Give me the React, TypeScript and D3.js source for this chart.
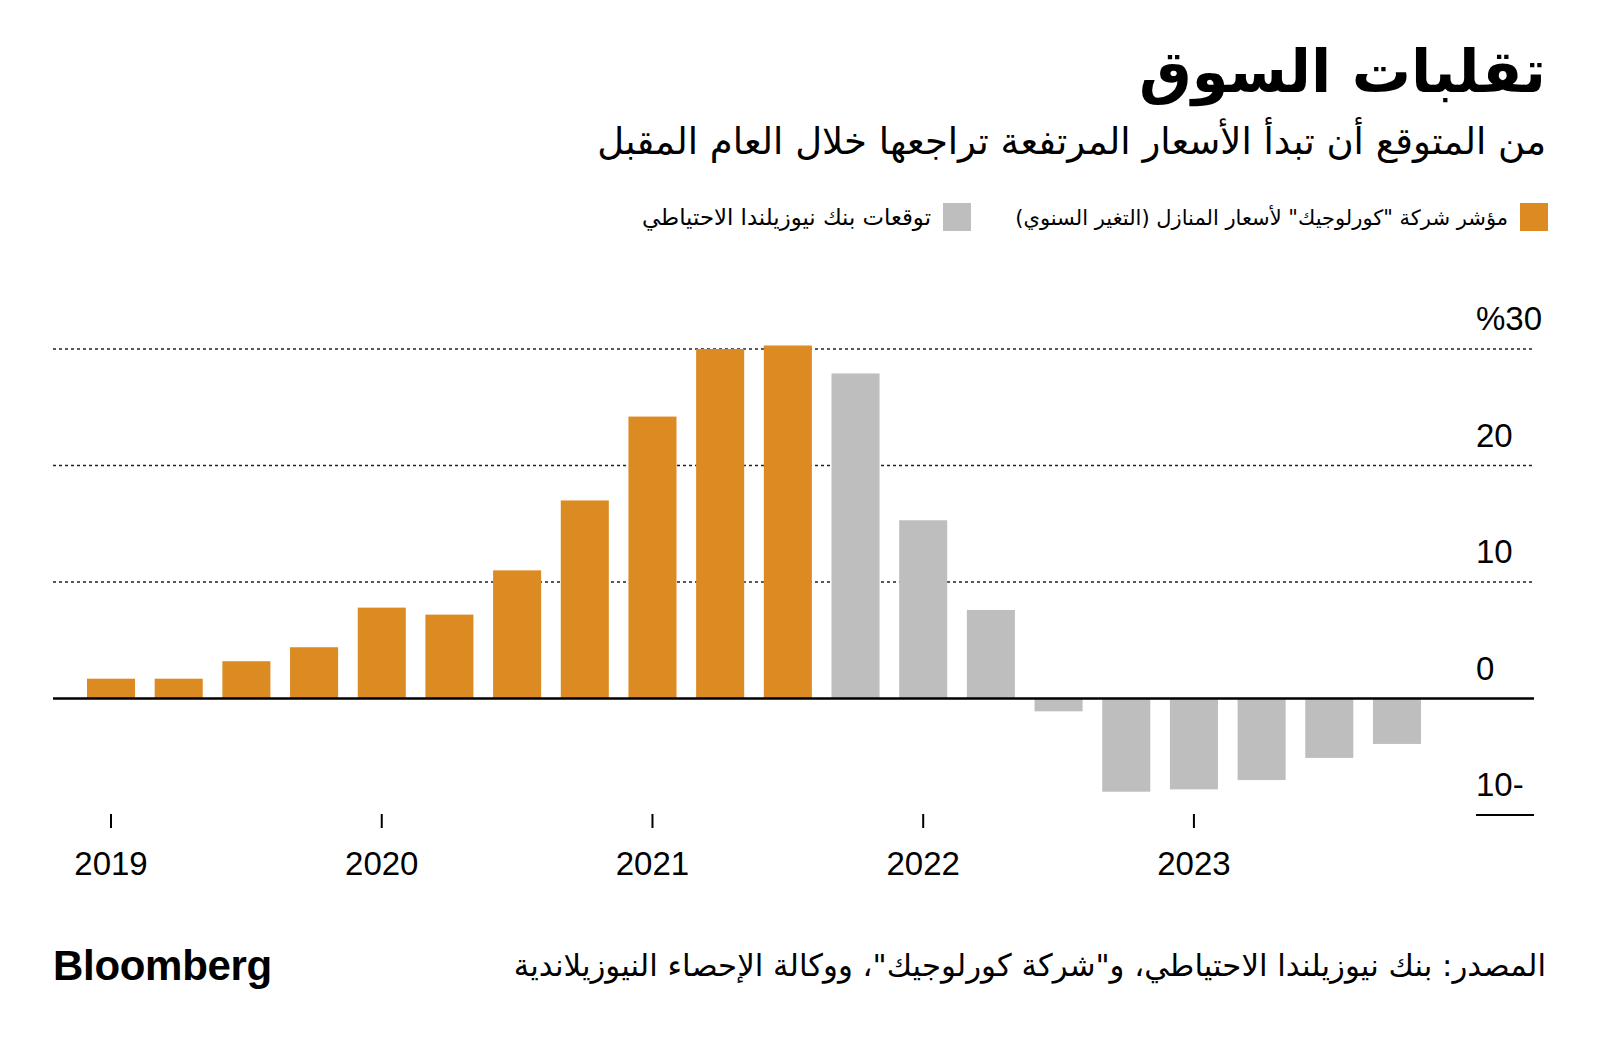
import React from "react";
import * as d3 from "d3";

const quarters = [
  "2019Q1","2019Q2","2019Q3","2019Q4",
  "2020Q1","2020Q2","2020Q3","2020Q4",
  "2021Q1","2021Q2","2021Q3","2021Q4",
  "2022Q1","2022Q2","2022Q3","2022Q4",
  "2023Q1","2023Q2","2023Q3","2023Q4",
];
// CoreLogic house price index, annual change (actual)
const corelogicValues = [1.7, 1.7, 3.2, 4.4, 7.8, 7.2, 11.0, 17.0, 24.2, 30.0, 30.3];
// RBNZ forecast
const rbnzValues = [27.9, 15.3, 7.6, -1.1, -8.0, -7.8, -7.0, -5.1, -3.9];

const yTicks = [30, 20, 10, 0, -10];
const yTickLabels = ["%30", "20", "10", "0", "10-"];
const years = ["2019", "2020", "2021", "2022", "2023"];

const title = "تقلبات السوق";
const subtitle = "من المتوقع أن تبدأ الأسعار المرتفعة تراجعها خلال العام المقبل";
const legendLabels = [
  "مؤشر شركة \"كورلوجيك\" لأسعار المنازل (التغير السنوي)",
  "توقعات بنك نيوزيلندا الاحتياطي",
];
const source = "المصدر: بنك نيوزيلندا الاحتياطي، و\"شركة كورلوجيك\"، ووكالة الإحصاء النيوزيلاندية";

const ORANGE = "#DC8A22";
const GREY = "#BEBEBE";
const AR_FONT = "'DejaVu Sans', 'Noto Sans', sans-serif";
const NUM_FONT = "'Liberation Sans', Arial, sans-serif";

type Bar = { q: string; v: number; kind: "actual" | "forecast" };

const bars: Bar[] = [
  ...corelogicValues.map((v, i) => ({ q: quarters[i], v, kind: "actual" as const })),
  ...rbnzValues.map((v, i) => ({ q: quarters[corelogicValues.length + i], v, kind: "forecast" as const })),
];

export default function App() {
  const W = 1600, H = 1048;
  const x = d3.scaleBand<string>().domain(quarters).range([87, 1421]).paddingInner(0.29).paddingOuter(0);
  const y = d3.scaleLinear().domain([-10, 30]).range([815, 349]);
  const gridX0 = 53, gridX1 = 1534;
  const labelX = 1476;

  return (
    <svg width={W} height={H} style={{ position: "absolute", left: 0, top: 0, background: "#fff" }}>
      <rect width={W} height={H} fill="#fff" />
      {/* Title */}
      <text x={1546} y={92} direction="rtl" textAnchor="start" fontFamily={AR_FONT} fontWeight="bold" fontSize={59} fill="#000">{title}</text>
      <text x={1546} y={154} direction="rtl" textAnchor="start" fontFamily={AR_FONT} fontSize={37} fill="#000">{subtitle}</text>

      {/* Legend */}
      <rect x={1520} y={203} width={28} height={28} fill={ORANGE} />
      <text x={1508} y={225} direction="rtl" textAnchor="start" fontFamily={AR_FONT} fontSize={21} fill="#000">{legendLabels[0]}</text>
      <rect x={943} y={203} width={28} height={28} fill={GREY} />
      <text x={931} y={225} direction="rtl" textAnchor="start" fontFamily={AR_FONT} fontSize={22.8} fill="#000">{legendLabels[1]}</text>

      {/* Grid lines */}
      {yTicks.filter(t => t > 0).map(t => (
        <line key={t} x1={gridX0} x2={gridX1} y1={y(t)} y2={y(t)} stroke="#222" strokeWidth={1.5} strokeDasharray="3 3" />
      ))}
      {/* short line under -10 label */}
      <line x1={labelX} x2={gridX1} y1={y(-10)} y2={y(-10)} stroke="#000" strokeWidth={2} />

      {/* Y labels */}
      {yTicks.map((t, i) => (
        <text key={t} x={labelX} y={y(t) - 19} fontFamily={NUM_FONT} fontSize={33} fill="#000">{yTickLabels[i]}</text>
      ))}

      {/* Bars */}
      {bars.map(b => (
        <rect key={b.q}
          x={x(b.q)!}
          y={y(Math.max(0, b.v))}
          width={x.bandwidth()}
          height={Math.abs(y(b.v) - y(0))}
          fill={b.kind === "actual" ? ORANGE : GREY} />
      ))}

      {/* Zero line */}
      <line x1={gridX0} x2={gridX1} y1={y(0)} y2={y(0)} stroke="#000" strokeWidth={2.5} />

      {/* X ticks */}
      {years.map(yr => {
        const cx = x(yr + "Q1")! + x.bandwidth() / 2;
        return (
          <g key={yr}>
            <line x1={cx} x2={cx} y1={814} y2={828} stroke="#000" strokeWidth={2} />
            <text x={cx} y={875} textAnchor="middle" fontFamily={NUM_FONT} fontSize={33} fill="#000">{yr}</text>
          </g>
        );
      })}

      {/* Footer */}
      <text x={1546} y={976} direction="rtl" textAnchor="start" fontFamily={AR_FONT} fontSize={30.8} fill="#000">{source}</text>
      <text x={53} y={980} fontFamily={NUM_FONT} fontWeight="bold" fontSize={42} letterSpacing={-0.3} fill="#000">Bloomberg</text>
    </svg>
  );
}
